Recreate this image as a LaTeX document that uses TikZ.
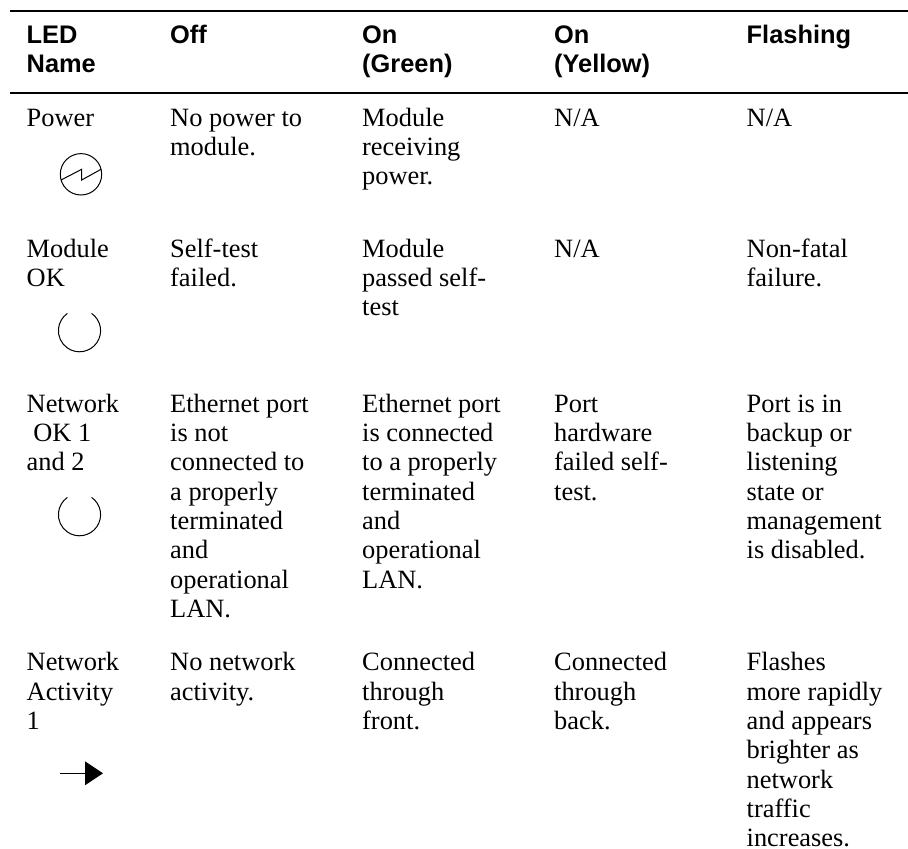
\documentclass[tikz,border=0pt]{standalone}
\usepackage{fontspec}
\setmainfont{Liberation Serif}
\newfontfamily\headfont{Liberation Sans}[BoldFont={Liberation Sans Bold}]
\newcommand{\cellnode}[4]{\node[cellbox] (#1) at (#2,#3-20.53) {\strut #4};}
\newcommand{\headnode}[4]{\node[headbox] (#1) at (#2,#3-20.53) {\strut #4};}
\tikzset{
  cellbox/.style={anchor=north west,inner sep=0pt,align=left,text=black,font=\fontsize{26.4}{29.33}\selectfont},
  headbox/.style={anchor=north west,inner sep=0pt,align=left,text=black,font=\headfont\bfseries\fontsize{25.4}{29.33}\selectfont},
  rulerline/.style={line width=2pt,black},
  iconline/.style={line width=1pt,black}
}
\begin{document}
\begin{tikzpicture}[x=1pt,y=-1pt]
\useasboundingbox (0,0) rectangle (908,849);
\coordinate (r1a) at (10,11); \coordinate (r1b) at (908,11);
\coordinate (r2a) at (10,92.8); \coordinate (r2b) at (908,92.8);
\draw[rulerline] (r1a) -- (r1b);
\draw[rulerline] (r2a) -- (r2b);
\headnode{h1}{26.5}{43}{LED\\Name}
\headnode{h2}{170}{43}{Off}
\headnode{h3}{362}{43}{On\\(Green)}
\headnode{h4}{554}{43}{On\\(Yellow)}
\headnode{h5}{746.5}{43}{Flashing}
\cellnode{a1}{26.5}{126}{Power}
\cellnode{a2}{170}{126}{No power to\\module.}
\cellnode{a3}{362}{126}{Module\\receiving\\power.}
\cellnode{a4}{554}{126}{N/A}
\cellnode{a5}{746.5}{126}{N/A}
\cellnode{b1}{26.5}{257}{Module\\OK}
\cellnode{b2}{170}{257}{Self-test\\failed.}
\cellnode{b3}{362}{257}{Module\\passed self-\\test}
\cellnode{b4}{554}{257}{N/A}
\cellnode{b5}{746.5}{257}{Non-fatal\\failure.}
\cellnode{c1}{26.5}{412}{Network\\\hspace*{6.6pt}OK 1\\and 2}
\cellnode{c2}{170}{412}{Ethernet port\\is not\\connected to\\a properly\\terminated\\and\\operational\\LAN.}
\cellnode{c3}{362}{412}{Ethernet port\\is connected\\to a properly\\terminated\\and\\operational\\LAN.}
\cellnode{c4}{554}{412}{Port\\hardware\\failed self-\\test.}
\cellnode{c5}{746.5}{412}{Port is in\\backup or\\listening\\state or\\management\\is disabled.}
\cellnode{d1}{26.5}{670.7}{Network\\Activity\\1}
\cellnode{d2}{170}{670.7}{No network\\activity.}
\cellnode{d3}{362}{670.7}{Connected\\through\\front.}
\cellnode{d4}{554}{670.7}{Connected\\through\\back.}
\cellnode{d5}{746.5}{670.7}{Flashes\\more rapidly\\and appears\\brighter as\\network\\traffic\\increases.}
% icons
\draw[iconline] (81,174.3) circle (20.7);
\draw[iconline] (61,180) -- (81.7,169.3) -- (81.7,180) -- (101,169.3);
\draw[iconline] (91.6,313.4) arc (-55:235:21.1);
\draw[iconline] (91.6,497.4) arc (-55:235:21.1);
\draw[line width=1.3pt] (60,773.3) -- (86,773.3);
\fill (85,761.3) -- (103,773.3) -- (85,785.3) -- cycle;
\end{tikzpicture}
\end{document}
